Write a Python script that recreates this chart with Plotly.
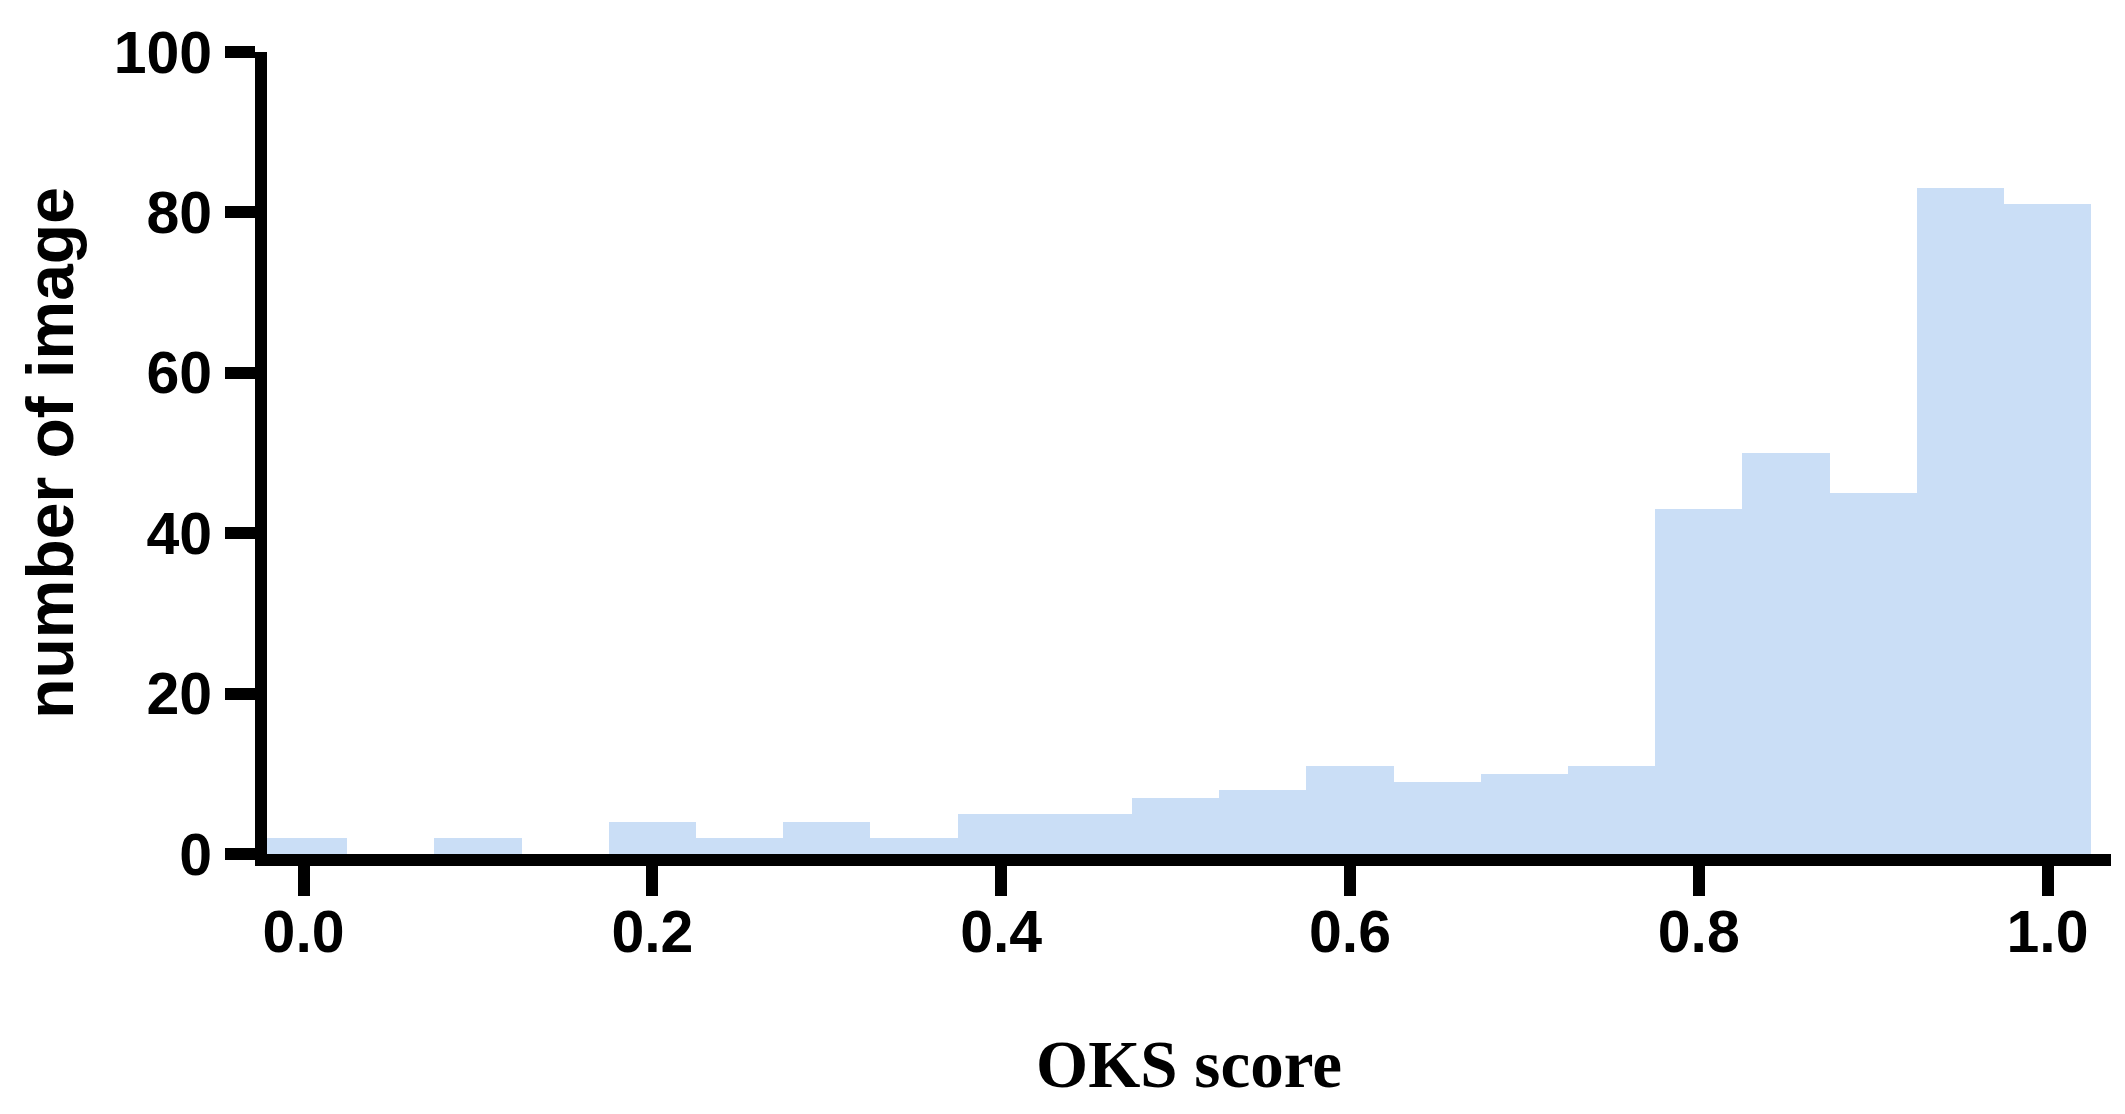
import plotly.graph_objects as go

# Bin centres (OKS score) and counts (number of images)
bin_centers = [0.00, 0.05, 0.10, 0.15, 0.20, 0.25, 0.30, 0.35, 0.40, 0.45, 0.50,
               0.55, 0.60, 0.65, 0.70, 0.75, 0.80, 0.85, 0.90, 0.95, 1.00]
counts = [2, 0, 2, 0, 4, 2, 4, 2, 5, 5, 7,
          8, 11, 9, 10, 11, 43, 50, 45, 83, 81]
bin_width = 0.05

x_tickvals = [0.0, 0.2, 0.4, 0.6, 0.8, 1.0]
x_ticktext = ["0.0", "0.2", "0.4", "0.6", "0.8", "1.0"]
y_tickvals = [0, 20, 40, 60, 80, 100]

fig = go.Figure()
fig.add_trace(go.Bar(
    x=bin_centers,
    y=counts,
    width=[bin_width] * len(bin_centers),
    marker=dict(color="rgb(202,222,246)", line=dict(width=0)),
    showlegend=False,
))

tickfont = dict(family="Liberation Sans, Arial, sans-serif", size=59, color="black", weight="bold")

fig.update_layout(
    width=2125, height=1114,
    margin=dict(l=259, r=22, t=38, b=268),
    plot_bgcolor="white", paper_bgcolor="white",
    bargap=0,
    xaxis=dict(
        range=[-0.021, 1.0364],
        tickvals=x_tickvals, ticktext=x_ticktext,
        ticks="outside", ticklen=30, tickwidth=12, tickcolor="black",
        showline=True, linewidth=12, linecolor="black",
        showgrid=False, zeroline=False,
        tickfont=tickfont,
        ticklabelstandoff=-15,
        title=dict(text="OKS score",
                   font=dict(family="Liberation Serif, Times New Roman, serif", size=67,
                             color="black", weight="bold"),
                   standoff=81),
    ),
    yaxis=dict(
        range=[0, 100],
        tickvals=y_tickvals,
        ticks="outside", ticklen=30, tickwidth=12, tickcolor="black",
        showline=True, linewidth=12, linecolor="black",
        showgrid=False, zeroline=False,
        tickfont=tickfont,
        ticklabelstandoff=1,
        title=dict(text="number of image",
                   font=dict(family="Liberation Sans, Arial, sans-serif", size=66,
                             color="black", weight="bold"),
                   standoff=24),
    ),
)

fig.write_html("out.html")
